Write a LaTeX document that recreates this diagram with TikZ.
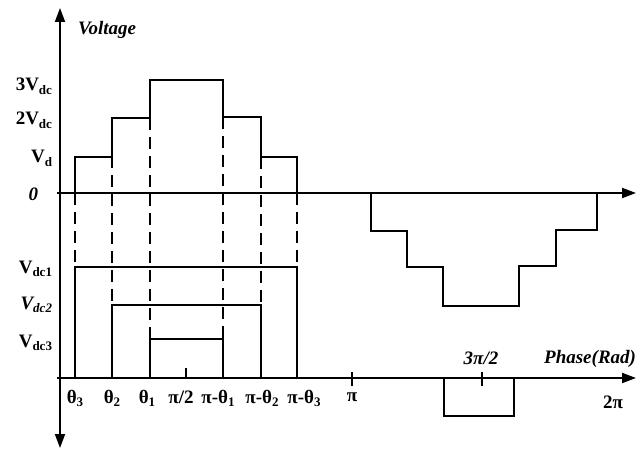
\documentclass[tikz,border=0pt]{standalone}
\usepackage{fontspec}
\usepackage{graphicx}
\setmainfont{Liberation Serif}
\usetikzlibrary{arrows.meta}
\newcommand{\sbs}[1]{\raisebox{-0.35ex}{\fontsize{13}{14}\selectfont #1}}
\begin{document}
\begin{tikzpicture}[x=1pt,y=-1pt,line width=2pt,line join=miter,
  lbl/.style={font=\fontsize{19}{21}\selectfont\bfseries,inner sep=0pt,anchor=base},
  lble/.style={lbl,anchor=base east},
  bit/.style={font=\fontsize{19}{21}\selectfont\bfseries\itshape},
  axisarrow/.style={line width=2pt,-{Triangle[length=14pt,width=10pt]}},
  dsh/.style={line width=2pt,dash pattern=on 12pt off 7pt}]
\useasboundingbox (0,0) rectangle (636,449);
% axes
\coordinate (vb) at (60,448);
\coordinate (vt) at (60,8);
\coordinate (u0) at (57,193);
\coordinate (u1) at (636,193);
\coordinate (l0) at (57,378);
\coordinate (l1) at (636,378);
\draw[{Triangle[length=14pt,width=10pt]}-{Triangle[length=14pt,width=10pt]}] (vb) -- (vt);
\draw[axisarrow] (u0) -- (u1);
\draw[axisarrow] (l0) -- (l1);
% positive staircase
\draw (75,193) -- (75,157) -- (112,157) -- (112,118) -- (150,118) -- (150,80)
  -- (223,80) -- (223,117) -- (261,117) -- (261,157) -- (297,157) -- (297,193);
% dashed projections
\draw[dsh] (75,193) -- (75,267);
\draw[dsh] (112,118) -- (112,305);
\draw[dsh] (150,118) -- (150,339);
\draw[dsh] (223,117) -- (223,339);
\draw[dsh] (261,157) -- (261,305);
\draw[dsh] (297,193) -- (297,267);
% source pulses
\draw (75,378) -- (75,267) -- (297,267) -- (297,378);
\draw (112,378) -- (112,305) -- (261,305) -- (261,378);
\draw (150,378) -- (150,339) -- (223,339) -- (223,378);
% negative staircase
\draw (371,193) -- (371,231) -- (407,231) -- (407,267) -- (443,267) -- (443,306)
  -- (519,306) -- (519,266) -- (556,266) -- (556,230) -- (597,230) -- (597,193);
% negative pulse on lower axis
\draw (444,378) -- (444,416) -- (514,416) -- (514,378);
% ticks
\draw[line width=1.3pt] (186,368) -- (186,378);
\draw[line width=1.3pt] (352,372) -- (352,386);
\draw[line width=1.3pt] (482,372) -- (482,386);
% labels
\node[lbl,anchor=base west,bit] (tv) at (77,35) {Voltage};
\node[lble] (t3) at (53,91) {3V\sbs{dc}};
\node[lble] (t2) at (53,125) {2V\sbs{dc}};
\node[lble] (t1) at (53,163) {V\sbs{d}};
\node[lble,bit] (tz) at (39,200) {0};
\node[lble] (s1) at (53,273) {V\sbs{dc1}};
\node[lble,bit] (s2) at (53,309) {V\sbs{dc2}};
\node[lble] (s3) at (53,347) {V\sbs{dc3}};
\node[lbl] (a1) at (75,403) {θ\sbs{3}};
\node[lbl] (a2) at (112,403) {θ\sbs{2}};
\node[lbl] (a3) at (147,403) {θ\sbs{1}};
\node[lbl] (a4) at (181,403) {π/2};
\node[lbl] (a5) at (218,403) {π-θ\sbs{1}};
\node[lbl] (a6) at (262,403) {π-θ\sbs{2}};
\node[lbl] (a7) at (304,403) {π-θ\sbs{3}};
\node[lbl] (a8) at (352,401) {π};
\node[lbl] (a9) at (613,408) {2π};
\node[lbl,bit] (a10) at (481,364) {3π/2};
\node[lbl,anchor=base east,bit] (ph) at (637,363) {Phase(Rad)};
\end{tikzpicture}
\end{document}
